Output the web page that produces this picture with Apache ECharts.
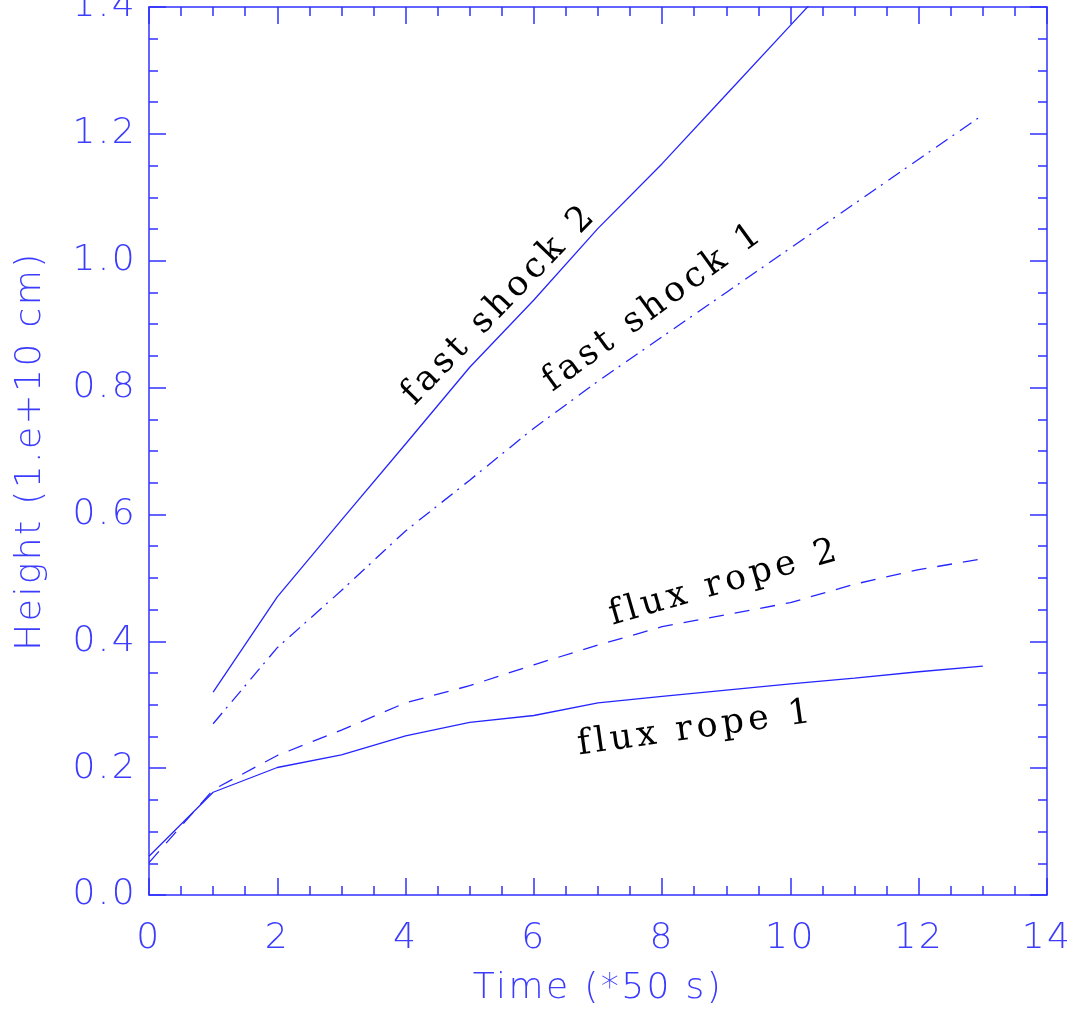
<!DOCTYPE html>
<html><head><meta charset="utf-8">
<script src="https://cdn.jsdelivr.net/npm/echarts@6/dist/echarts.min.js"></script>
<style>html,body{margin:0;padding:0;background:#fff}#c{width:1075px;height:1015px}</style>
</head><body><div id="c"></div>
<script>
const timeSteps  = [0, 1, 2, 3, 4, 5, 6, 7, 8, 9, 10, 11, 12, 13];
const fluxRope1  = [0.061, 0.162, 0.201, 0.221, 0.251, 0.272, 0.283, 0.303, 0.313, 0.323, 0.333, 0.342, 0.352, 0.361];
const fluxRope2  = [0.051, 0.166, 0.220, 0.260, 0.303, 0.330, 0.363, 0.394, 0.423, 0.442, 0.461, 0.490, 0.513, 0.530];
const fastShock2 = [null, 0.320, 0.470, 0.591, 0.711, 0.832, 0.938, 1.051, 1.153, 1.262, 1.371, 1.480];
const fastShock1 = [null, 0.270, 0.390, 0.480, 0.574, 0.654, 0.736, 0.810, 0.880, 0.950, 1.020, 1.090, 1.160, 1.230];
const yTickLabels = ['0.0', '0.2', '0.4', '0.6', '0.8', '1.0', '1.2', '1.4'];
const xTickLabels = ['0', '2', '4', '6', '8', '10', '12', '14'];
const curveLabels = [
  {text: 'fast shock 2', x: 5.47, y: 0.931, angle: 46},
  {text: 'fast shock 1', x: 7.87, y: 0.927, angle: 36},
  {text: 'flux rope 2',  x: 8.98, y: 0.492, angle: 16},
  {text: 'flux rope 1',  x: 8.53, y: 0.262, angle: 8}
];

function pairs(vals) { return vals.map((v, i) => [timeSteps[i], v]); }

const axisBlue = '#3030ff';
const textBlue = '#3c3cff';
const lineBlue = '#2525ff';
const font = 'DejaVu Sans';

function xAx(pos, showLabel) {
  return {
    type: 'value', position: pos, min: 0, max: 14, interval: 2,
    axisLine: {show: true, onZero: false, lineStyle: {color: axisBlue, width: 1.5}},
    axisTick: {show: true, inside: true, length: 17, lineStyle: {color: axisBlue, width: 1.5}},
    minorTick: {show: true, splitNumber: 4, length: 9, lineStyle: {color: axisBlue, width: 1.5}},
    splitLine: {show: false},
    axisLabel: {show: showLabel, margin: 26, color: textBlue, fontSize: 36, fontFamily: font, fontWeight: 200,
      formatter: v => xTickLabels[Math.round(v / 2)]},
    name: showLabel ? 'Time (*50 s)' : '', nameLocation: 'middle', nameGap: 76,
    nameTextStyle: {color: textBlue, fontSize: 36, fontFamily: font, fontWeight: 200}
  };
}
function yAx(pos, showLabel) {
  return {
    type: 'value', position: pos, min: 0, max: 1.4, interval: 0.2,
    axisLine: {show: true, onZero: false, lineStyle: {color: axisBlue, width: 1.5}},
    axisTick: {show: true, inside: true, length: 17, lineStyle: {color: axisBlue, width: 1.5}},
    minorTick: {show: true, splitNumber: 4, length: 9, lineStyle: {color: axisBlue, width: 1.5}},
    splitLine: {show: false},
    axisLabel: {show: showLabel, margin: 12, color: textBlue, fontSize: 36, fontFamily: font, fontWeight: 200,
      formatter: v => yTickLabels[Math.round(v / 0.2)]},
    name: showLabel ? 'Height (1.e+10 cm)' : '', nameLocation: 'middle', nameGap: 100,
    nameTextStyle: {color: textBlue, fontSize: 36, fontFamily: font, fontWeight: 200}
  };
}

const chart = echarts.init(document.getElementById('c'), null, {renderer: 'canvas'});
// widen glyph spacing like the original plotting fonts
try {
  const painter = chart.getZr().painter;
  painter.getLayer(0).ctx.letterSpacing = '2.4px';
  painter.getLayer(1).ctx.letterSpacing = '4.3px';
} catch (e) {}

const lineSeries = (name, vals, type) => ({
  name, type: 'line', data: pairs(vals), xAxisIndex: 0, yAxisIndex: 0,
  showSymbol: false, symbol: 'none', clip: true, connectNulls: false, animation: false,
  lineStyle: {color: lineBlue, width: 1.3, type: type}
});
chart.setOption({
  animation: false,
  backgroundColor: '#fff',
  grid: {left: 149, right: 28, top: 7, bottom: 120, containLabel: false, outerBoundsMode: 'none'},
  xAxis: [xAx('bottom', true), xAx('top', false)],
  yAxis: [yAx('left', true), yAx('right', false)],
  series: [
    lineSeries('flux rope 1', fluxRope1, 'solid'),
    lineSeries('flux rope 2', fluxRope2, [15, 11]),
    lineSeries('fast shock 2', fastShock2, 'solid'),
    lineSeries('fast shock 1', fastShock1, [14, 6, 2, 7])
  ]
});

const graphics = curveLabels.map(l => {
  const p = chart.convertToPixel({gridIndex: 0}, [l.x, l.y]);
  return {
    type: 'text', zlevel: 1, x: p[0], y: p[1], rotation: l.angle * Math.PI / 180,
    style: {text: l.text, fill: '#000', fontSize: 35, fontFamily: 'DejaVu Serif', textAlign: 'center', textVerticalAlign: 'middle'}
  };
});
chart.setOption({graphic: graphics});
</script>
</body></html>
